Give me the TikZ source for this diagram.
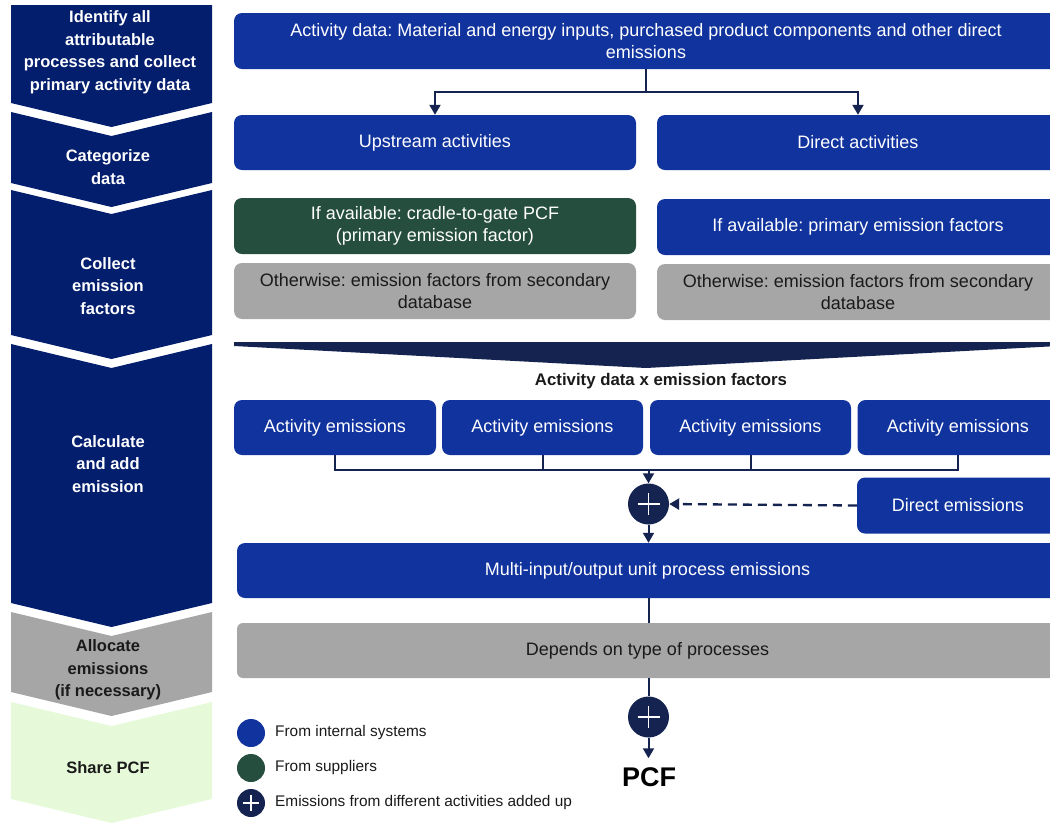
\documentclass[tikz,border=0pt]{standalone}
\usepackage{fontspec}
\setmainfont{Liberation Sans}
\usetikzlibrary{arrows.meta}
\AtBeginDocument{\frenchspacing}

\definecolor{stageblue}{RGB}{4,30,110}
\definecolor{boxblue}{RGB}{17,51,158}
\definecolor{navy}{RGB}{20,35,80}
\definecolor{supgreen}{RGB}{38,78,62}
\definecolor{boxgray}{RGB}{166,166,166}
\definecolor{palegreen}{RGB}{230,250,218}
\definecolor{ink}{RGB}{26,26,26}

\begin{document}
\begin{tikzpicture}[x=1pt,y=-1pt,
  box/.style={rectangle, rounded corners=8pt, fill=boxblue, text=white,
    font=\fontsize{18}{22}\selectfont, inner sep=0pt, align=center,
    minimum height=55pt},
  suppbox/.style={box, fill=supgreen},
  graybox/.style={box, fill=boxgray, text=ink},
  stagetext/.style={font=\fontsize{16.5}{22.5}\selectfont\bfseries,
    text=white, align=center, inner sep=0pt},
  darkstage/.style={stagetext, text=ink},
  sumnode/.style={circle, fill=navy, minimum size=41pt, inner sep=0pt},
  legenddot/.style={circle, minimum size=28pt, inner sep=0pt},
  legendtext/.style={font=\fontsize{15.4}{18}\selectfont, text=ink,
    anchor=west, inner sep=0pt},
  conn/.style={draw=navy, line width=2pt,
    -{Triangle[length=10pt,width=11pt]}},
  plainline/.style={draw=navy, line width=2pt},
  dashconn/.style={conn, line width=2.3pt, dash pattern=on 9pt off 6pt},
  plussign/.style={draw=white, line width=1.1pt}
]
\useasboundingbox (0,0) rectangle (1050,823);
\clip (0,0) rectangle (1050,823);

% ---- process stages (left column) ----
\fill[stageblue] (11,5) -- (212,5) -- (212,103) -- (111.5,127) -- (11,103) -- cycle;
\fill[stageblue] (11,112) -- (111.5,136) -- (212,112) -- (212,183) -- (111.5,207) -- (11,183) -- cycle;
\fill[stageblue] (11,190) -- (111.5,214) -- (212,190) -- (212,335) -- (111.5,359) -- (11,335) -- cycle;
\fill[stageblue] (11,344) -- (111.5,368) -- (212,344) -- (212,603) -- (111.5,627) -- (11,603) -- cycle;
\fill[boxgray] (11,612) -- (111.5,636) -- (212,612) -- (212,692) -- (111.5,716) -- (11,692) -- cycle;
\fill[palegreen] (11,702) -- (111.5,726) -- (212,702) -- (212,799) -- (111.5,823) -- (11,799) -- cycle;

\node[stagetext] (s1) at (110,52) {Identify all\\attributable\\processes and collect\\primary activity data};
\node[stagetext] (s2) at (108,167) {Categorize\\data};
\node[stagetext] (s3) at (108,286) {Collect\\emission\\factors};
\node[stagetext] (s4) at (108,464) {Calculate\\and add\\emission};
\node[darkstage] (s5) at (108,670) {Allocate\\emissions\\(if necessary)};
\node[darkstage] (s6) at (108,768) {Share PCF};

% ---- activity data and categories ----
\node[box, minimum width=824pt, minimum height=56pt] (top) at (646,41)
  {Activity data: Material and energy inputs, purchased product components and other direct\\emissions};
\node[box, minimum width=402pt] (ups) at (435,142.5) {Upstream activities};
\node[box, minimum width=402pt] (dir) at (858,142.5) {Direct activities};

\draw[conn] (top.south) -- ++(0,23) -| (ups.north);
\draw[conn] (top.south) -- ++(0,23) -| (dir.north);

% ---- emission factors ----
\node[suppbox, minimum width=402pt, minimum height=56pt] (pcfsup) at (435,226)
  {If available: cradle-to-gate PCF\\(primary emission factor)};
\node[box, minimum width=402pt, minimum height=56pt] (pef) at (858,227)
  {If available: primary emission factors};
\node[graybox, minimum width=402pt, minimum height=56pt] (sec1) at (435,291)
  {Otherwise: emission factors from secondary\\database};
\node[graybox, minimum width=402pt, minimum height=56pt] (sec2) at (858,292)
  {Otherwise: emission factors from secondary\\database};

% ---- funnel ----
\fill[navy] (234,342) -- (1058,342) -- (1058,346) -- (646,368) -- (234,346) -- cycle;
\node[font=\fontsize{16.8}{19}\selectfont\bfseries, text=ink, inner sep=0pt] (formula)
  at (661,381) {Activity data x emission factors};

% ---- activity emissions ----
\node[box, minimum width=202pt] (act1) at (335,427.5) {Activity emissions};
\node[box, minimum width=201pt] (act2) at (542.5,427.5) {Activity emissions};
\node[box, minimum width=201pt] (act3) at (750.5,427.5) {Activity emissions};
\node[box, minimum width=201pt] (act4) at (958,427.5) {Activity emissions};

\node[sumnode] (sum1) at (648.5,504) {};
\draw[plussign] ([xshift=-11pt]sum1.center) -- ([xshift=11pt]sum1.center);
\draw[plussign] ([yshift=-11pt]sum1.center) -- ([yshift=11pt]sum1.center);

\coordinate (bus) at (648.5,470);
\draw[plainline] (act1.south) |- (act4.south |- bus) -- (act4.south);
\draw[plainline] (act2.south) -- (act2.south |- bus);
\draw[plainline] (act3.south) -- (act3.south |- bus);
\draw[conn] (bus) -- (sum1.north);

\node[box, minimum width=202pt, minimum height=56pt] (dem) at (958,505.5) {Direct emissions};
\draw[dashconn] (dem.west) -- (sum1.east);

% ---- unit process and allocation ----
\node[box, minimum width=821pt] (multi) at (647.5,570.5) {Multi-input/output unit process emissions};
\draw[conn] (sum1.south) -- (sum1.south |- multi.north);

\node[graybox, rounded corners=6pt, minimum width=821pt] (alloc) at (647.5,650.5) {Depends on type of processes};
\draw[plainline] (multi.south -| sum1) -- (alloc.north -| sum1);

\node[sumnode] (sum2) at (648.5,717) {};
\draw[plussign] ([xshift=-11pt]sum2.center) -- ([xshift=11pt]sum2.center);
\draw[plussign] ([yshift=-11pt]sum2.center) -- ([yshift=11pt]sum2.center);
\draw[plainline] (alloc.south -| sum2) -- (sum2.north);

\node[font=\fontsize{27}{30}\selectfont\bfseries, text=black, inner sep=0pt] (pcf) at (649,777) {PCF};
\draw[conn] (sum2.south) -- ([yshift=9pt]pcf.north -| sum2);

% ---- legend ----
\node[legenddot, fill=boxblue] (lg1) at (251,733) {};
\node[legenddot, fill=supgreen] (lg2) at (251,768) {};
\node[legenddot, fill=navy] (lg3) at (251,803) {};
\draw[plussign] ([xshift=-8pt]lg3.center) -- ([xshift=8pt]lg3.center);
\draw[plussign] ([yshift=-8pt]lg3.center) -- ([yshift=8pt]lg3.center);
\node[legendtext] (lt1) at (275,733) {From internal systems};
\node[legendtext] (lt2) at (275,768) {From suppliers};
\node[legendtext] (lt3) at (275,803) {Emissions from different activities added up};
\end{tikzpicture}
\end{document}
